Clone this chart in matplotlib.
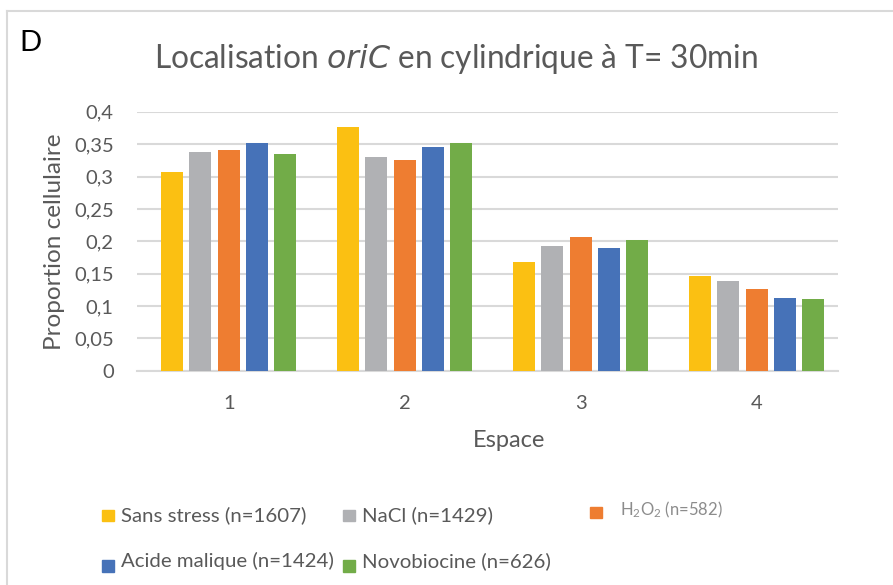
import numpy as np
import matplotlib
matplotlib.use("Agg")
import matplotlib.pyplot as plt
from matplotlib.patches import Rectangle
from matplotlib.lines import Line2D

plt.rcParams['font.family'] = ['Lato', 'DejaVu Sans']
plt.rcParams['mathtext.default'] = 'regular'

espaces = ["1", "2", "3", "4"]
conditions = ["Sans stress (n=1607)", "NaCl (n=1429)", "H$_2$O$_2$ (n=582)",
              "Acide malique (n=1424)", "Novobiocine (n=626)"]
sans_stress = [0.307, 0.376, 0.168, 0.147]
nacl = [0.338, 0.330, 0.193, 0.138]
h2o2 = [0.341, 0.326, 0.206, 0.126]
acide_malique = [0.352, 0.346, 0.189, 0.113]
novobiocine = [0.334, 0.352, 0.202, 0.111]
yticks = [0, 0.05, 0.1, 0.15, 0.2, 0.25, 0.3, 0.35, 0.4]

series = [sans_stress, nacl, h2o2, acide_malique, novobiocine]
colors = ["#FBC012", "#B0B1B4", "#EE7D31", "#4672B8", "#72AC48"]
txt = "#595959"

fig = plt.figure(figsize=(8.93, 5.85), dpi=100)
ax = fig.add_axes([0.153, 0.366, 0.785, 0.443])

x = np.arange(len(espaces))
pitch = 0.161
width = 0.125
for i, (vals, c) in enumerate(zip(series, colors)):
    ax.bar(x + (i - 2) * pitch, vals, width, color=c, zorder=3)

ax.set_xlim(-0.523, 3.46)
ax.set_ylim(0, 0.4)
ax.set_yticks(yticks)
ax.set_yticklabels([("%g" % v).replace(".", ",") for v in yticks])
ax.set_xticks(x)
ax.set_xticklabels(espaces)
ax.tick_params(length=0, labelsize=14.5, labelcolor=txt)
ax.tick_params(axis="y", pad=16.5)
ax.tick_params(axis="x", pad=17)
ax.grid(axis="y", color="#D9D9D9", linewidth=1.5, zorder=0)
for s in ["top", "right", "left"]:
    ax.spines[s].set_visible(False)
ax.spines["bottom"].set_color("#D9D9D9")
ax.spines["bottom"].set_linewidth(1.5)

ax.set_ylabel("Proportion cellulaire", fontsize=17.5, color=txt,
              va="center")
ax.yaxis.set_label_coords(-0.117, 0.5)
ax.set_xlabel("Espace", fontsize=17, color=txt, va="center")
ax.xaxis.set_label_coords(0.531, -0.268)

fig.text(0.511, 0.9, "Localisation $\\it{oriC}$ en cylindrique à T= 30min",
         ha="center", va="center", fontsize=22.8, color=txt)
fig.text(0.022, 0.927, "D", ha="left", va="center", fontsize=21, color="black")

# outer frame (top and left edges)
fig.add_artist(Line2D([0.008, 1.0], [0.981, 0.981], color="#D9D9D9", lw=1.5))
fig.add_artist(Line2D([0.008, 0.008], [0.0, 0.981], color="#D9D9D9", lw=1.5))

# legend drawn by hand: (square x, square y centre, text y centre)
legend_pos = [(0.114, 0.119, 0.119), (0.384, 0.119, 0.119),
              (0.661, 0.124, 0.128), (0.114, 0.0325, 0.041),
              (0.384, 0.0325, 0.041)]
for k, (lab, c) in enumerate(zip(conditions, colors)):
    lx, sy, ty = legend_pos[k]
    fig.add_artist(Rectangle((lx, sy - 0.0095), 0.0134, 0.019, color=c,
                             transform=fig.transFigure))
    if k == 2:
        fig.text(lx + 0.033, ty, lab, fontsize=12, color="#8C8C8C",
                 ha="left", va="center")
    else:
        fig.text(lx + 0.0215, ty, lab, fontsize=14.7, color=txt,
                 ha="left", va="center")

fig.savefig("out.png", dpi=100)
